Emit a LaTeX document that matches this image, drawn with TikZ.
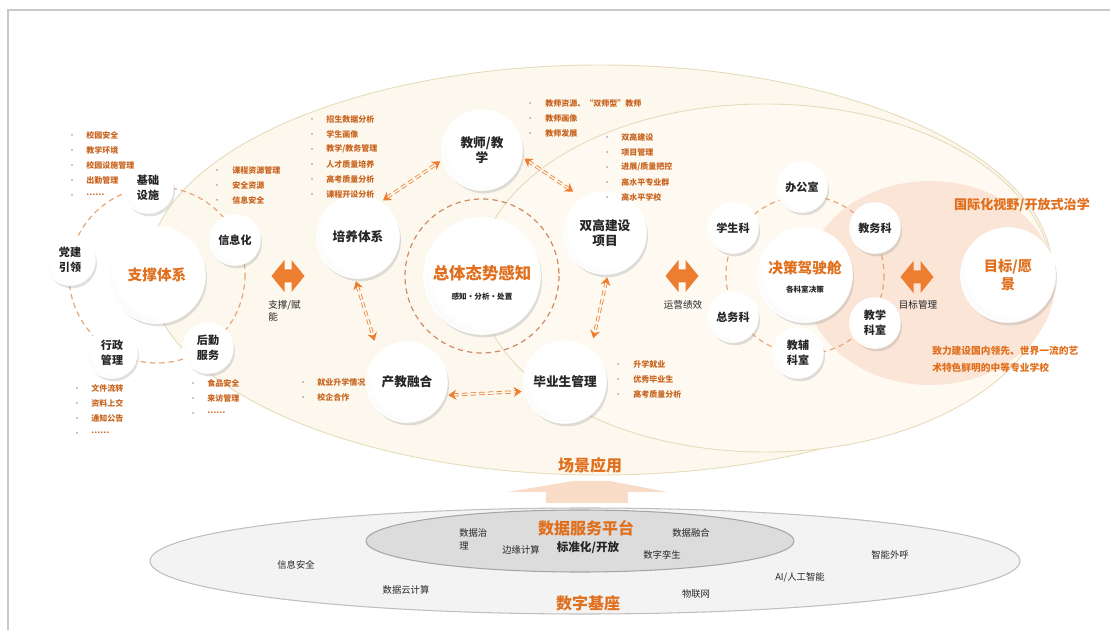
\documentclass[tikz,border=0pt]{standalone}
\usepackage{fontspec}
\setmainfont{Noto Sans CJK SC}
\usetikzlibrary{arrows.meta, shadows}

\definecolor{frameGray}{HTML}{C8C8C8}
\definecolor{creamFill}{HTML}{FDF8EE}
\definecolor{creamIn}{HTML}{FEFAF2}
\definecolor{creamLine}{HTML}{E6DCBC}
\definecolor{peachFill}{HTML}{FAE5D6}
\definecolor{peachEdge}{HTML}{FCEEE3}
\definecolor{titleOrange}{HTML}{E0701E}
\definecolor{listOrange}{HTML}{C8641E}
\definecolor{arrowOrange}{HTML}{ED7D31}
\definecolor{ringOrange}{HTML}{E6A67C}
\definecolor{ringBrown}{HTML}{CF8A62}
\definecolor{dotGray}{HTML}{A6A6A6}
\definecolor{labelBlack}{HTML}{262626}
\definecolor{baseGray}{HTML}{F3F3F3}
\definecolor{baseLine}{HTML}{BFBFBF}
\definecolor{platGray}{HTML}{DCDCDC}
\definecolor{platLine}{HTML}{A6A6A6}
\definecolor{upPeach}{HTML}{F9DCC8}

\pgfdeclareradialshading{ballshade}{\pgfpoint{6bp}{8bp}}{color(0bp)=(white); color(26bp)=(white); color(50bp)=(gray!20); color(70bp)=(gray!32)}
\pgfdeclareradialshading{peachshade}{\pgfpoint{0bp}{0bp}}{color(0bp)=(peachFill); color(38bp)=(peachFill); color(50bp)=(peachEdge)}

\tikzset{
  ball/.style={circle, shade, shading=ballshade, draw=white, line width=1.2pt, inner sep=0pt,
    drop shadow={shadow xshift=1.5pt, shadow yshift=-2.5pt, opacity=0.3, fill=gray!80},
    text=labelBlack, align=center},
  smallball/.style={ball, minimum size=37.5pt, font=\fontsize{8.3}{11.2}\selectfont\bfseries},
  midball/.style={ball, minimum size=61.5pt, font=\fontsize{9.5}{11.5}\selectfont\bfseries},
  ringdash/.style={draw=ringOrange, line width=0.9pt, dash pattern=on 4pt off 3pt},
  linkarrow/.style={draw=arrowOrange, line width=0.6pt, double=creamFill, double distance=1.2pt,
    dash pattern=on 4pt off 2.5pt,
    {Stealth[length=6pt, width=7.5pt, inset=2pt]}-{Stealth[length=6pt, width=7.5pt, inset=2pt]},
    shorten <=2pt, shorten >=2pt},
  fatarrow/.pic={
    \fill[arrowOrange] (-16.5,0) -- (-3.5,-16) -- (-3.5,-6.5) -- (3.5,-6.5) -- (3.5,-16)
      -- (16.5,0) -- (3.5,16) -- (3.5,6.5) -- (-3.5,6.5) -- (-3.5,16) -- cycle;},
  itemtext/.style={anchor=west, inner sep=0pt, text=listOrange, font=\fontsize{6}{7}\selectfont\bfseries},
  sidelabel/.style={inner sep=0pt, text=labelBlack, font=\fontsize{7.2}{9}\selectfont},
  subtext/.style={inner sep=0pt, text=labelBlack, font=\fontsize{5.7}{7}\selectfont\bfseries},
  bigtitle/.style={inner sep=0pt, text=titleOrange, font=\fontsize{12}{14}\selectfont\bfseries},
  basetext/.style={inner sep=0pt, text=labelBlack, font=\fontsize{7}{9.75}\selectfont}
}

%% bullet list: name, bullet x, text x, first y, items
\newcommand{\itemList}[5]{%
  \foreach \itm [count=\i from 0] in {#5}{
    \fill[dotGray] (#2, #4+15*\i) circle (1);
    \node[itemtext] (#1-\i) at (#3, #4+15*\i) {\itm};
  }}

\begin{document}
\begin{tikzpicture}[x=0.75pt, y=-0.75pt]
\useasboundingbox (0,0) rectangle (1110,630);

%% frame
\draw[frameGray, line width=0.8pt] (8,630) -- (8,10) -- (1110,10);

%% scene ellipses
\fill[creamFill] (600,270) ellipse (452 and 205);
\draw[creamLine, line width=0.7pt] (600,270) ellipse (452 and 205);
\draw[creamLine, line width=0.7pt, fill=creamIn] (765,278) ellipse (287 and 174);
\shade[shading=peachshade] (930,283) ellipse (125 and 102);

%% orbit centres
\coordinate (zcC) at (157,275);
\coordinate (ztC) at (482,276);
\coordinate (jcC) at (805,275);
\draw[ringdash] (zcC) circle (88);
\draw[ringdash, draw=ringBrown] (ztC) circle (77);
\draw[ringdash] (jcC) circle (79);

%% ***Support system***
\node[ball, minimum size=72pt, text=titleOrange, font=\fontsize{11}{13}\selectfont\bfseries] (zctx) at (zcC) {支撑体系};
\node[smallball] (jcss) at (148,188) {基础\\设施};
\node[smallball] (xxh) at (235,240) {信息化};
\node[smallball] (djyl) at (70,260) {党建\\引领};
\node[smallball] (xzgl) at (112,353) {行政\\管理};
\node[smallball] (hqfw) at (208,348) {后勤\\服务};

%% ***Scene applications***
\node[ball, minimum size=87pt] (ztts) at (ztC) {};
\node[bigtitle, font=\fontsize{12.3}{14}\selectfont\bfseries] (zttsTx) at (482,273) {总体态势感知};
\node[subtext] (zttsSub) at (482,297) {感知•分析•处置};
\node[midball, minimum size=60pt] (jsjx) at (482,150) {教师/教\\学};
\node[midball] (pytx) at (358,237) {培养体系};
\node[midball] (sgjs) at (605,233) {双高建设\\项目};
\node[midball, minimum size=60pt] (cjrh) at (407,382) {产教融合};
\node[midball] (bysgl) at (565,382) {毕业生管理};

\draw[linkarrow] (pytx.57) -- (jsjx.194);
\draw[linkarrow] (jsjx.-10) -- ([shift={(-5,-6)}]sgjs.126);
\draw[linkarrow] (pytx.-94) -- ([shift={(-6,-7)}]cjrh.129);
\draw[linkarrow] (sgjs.-86) -- ([shift={(5,-6)}]bysgl.57);
\draw[linkarrow] (cjrh.-19) -- (bysgl.193);

%% ***Decision cockpit***
\node[ball, minimum size=70.5pt] (jcjsc) at (jcC) {};
\node[bigtitle, font=\fontsize{11}{13}\selectfont\bfseries] (jcjscTx) at (805,268) {决策驾驶舱};
\node[subtext] (jcjscSub) at (805,290) {各科室决策};
\node[smallball] (bgs) at (802,187) {办公室};
\node[smallball] (jwk) at (875,228) {教务科};
\node[smallball] (jxks) at (875,323) {教学\\科室};
\node[smallball] (jfks) at (798,353) {教辅\\科室};
\node[smallball] (zwk) at (733,317) {总务科};
\node[smallball] (xsk) at (733,228) {学生科};

%% ***Goal***
\node[ball, minimum size=70.5pt, text=titleOrange, font=\fontsize{10.7}{13.5}\selectfont\bfseries] (mbyj) at (1008,275) {目标/愿\\景};
\node[bigtitle, font=\fontsize{9.8}{12}\selectfont\bfseries] (gjh) at (1022,205) {国际化视野/开放式治学};
\node[bigtitle, anchor=west, align=left, font=\fontsize{7.3}{12.75}\selectfont\bfseries] (zljs) at (932,359) {致力建设国内领先、世界一流的艺\\术特色鲜明的中等专业学校};

%% fat arrows
\pic (fa1) at (288,276) {fatarrow};
\node[sidelabel, anchor=north west, align=left] (fa1Tx) at (268,300) {支撑/赋\\能};
\pic (fa2) at (682,276) {fatarrow};
\node[sidelabel] (fa2Tx) at (683,305) {运营绩效};
\pic (fa3) at (917,277) {fatarrow};
\node[sidelabel] (fa3Tx) at (918,305) {目标管理};

%% lists
\itemList{jcssL}{72}{86}{135}{校园安全, 教学环境, 校园设施管理, 出勤管理, ……}
\itemList{xxhL}{217}{232}{170}{课程资源管理, 安全资源, 信息安全}
\itemList{xzglL}{77}{91}{388}{文件流转, 资料上交, 通知公告, ……}
\itemList{hqfwL}{193}{207}{383}{食品安全, 来访管理, ……}
\itemList{pytxL}{312}{326}{119}{招生数据分析, 学生画像, 教学/教务管理, 人才质量培养, 高考质量分析, 课程开设分析}
\itemList{jsjxL}{530}{545}{103}{教师资源、“双师型”教师, 教师画像, 教师发展}
\itemList{sgjsL}{607}{621}{137}{双高建设, 项目管理, 进展/质量把控, 高水平专业群, 高水平学校}
\itemList{cjrhL}{303}{317}{382}{就业升学情况, 校企合作}
\itemList{bysglL}{618}{633}{364}{升学就业, 优秀毕业生, 高考质量分析}

\node[bigtitle] (cjyy) at (590,465) {场景应用};

%% ***Digital base***
\fill[upPeach] (546,503) -- (546,492) -- (507,492) -- (573,481) -- (610,481) -- (668,492) -- (628,492) -- (628,503) -- cycle;
\draw[baseLine, fill=baseGray, line width=0.8pt] (585,561) ellipse (435 and 53);
\draw[platLine, fill=platGray, line width=0.8pt] (580,541) ellipse (214 and 31);

\node[bigtitle] (sjfw) at (586,528) {数据服务平台};
\node[basetext, anchor=west, align=left] (sjzl) at (459,539.5) {数据治\\理};
\node[basetext] (byjs) at (521,550) {边缘计算};
\node[basetext, font=\fontsize{8.7}{10}\selectfont\bfseries] (bzh) at (588,548) {标准化/开放};
\node[basetext] (szls) at (662,555) {数字孪生};
\node[basetext] (sjrh) at (691,533) {数据融合};
\node[basetext] (xxaq) at (296,565) {信息安全};
\node[basetext] (sjyjs) at (406,590) {数据云计算};
\node[bigtitle] (szjz) at (588,603) {数字基座};
\node[basetext] (wlw) at (696,594) {物联网};
\node[basetext] (aizn) at (800,577) {AI/人工智能};
\node[basetext] (znwh) at (890,555) {智能外呼};
\end{tikzpicture}
\end{document}
